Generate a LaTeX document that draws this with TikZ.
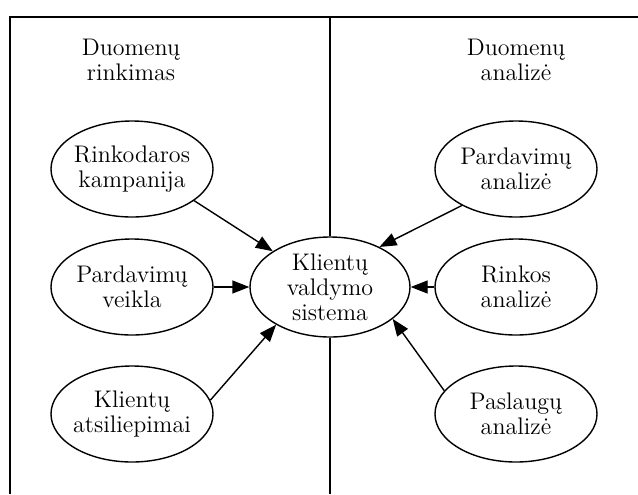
\documentclass[tikz,border=0pt]{standalone}
\usepackage{tikz}
\usepackage{xcolor}
\usetikzlibrary{arrows.meta}
\usetikzlibrary{shapes.geometric}

\tikzset{
	blob/.style={draw, ellipse, line width=0.7pt, minimum width=81pt, minimum height=48pt, inner sep=0pt},
	txt/.style={align=center, inner sep=0pt},
	feed/.style={line width=0.7pt, -{Triangle[length=8.5pt,width=6.5pt]}},
}

\begin{document}
\begin{tikzpicture}[x=0.5pt, y=-0.5pt, font=\fontsize{12pt}{12.5pt}\selectfont]
	\useasboundingbox (0,0) rectangle (638,494);

	% Frame
	\coordinate (tl) at (10,17);
	\coordinate (tr) at (638,17);
	\coordinate (bl) at (10,494);
	\coordinate (midtop) at (330,17);
	\coordinate (midbot) at (330,494);
	\draw[line width=0.7pt] (bl) -- (tl) -- (tr);

	% Column titles
	\node[txt] (hleft) at (131,60) {Duomenų\\rinkimas};
	\node[txt] (hright) at (516,60) {Duomenų\\analizė};

	% Central system
	\node[blob, minimum width=80pt, minimum height=50pt, label={[txt]center:Klientų\\valdymo\\sistema}] (kvs) at (330,287) {};
	\draw[line width=0.7pt] (midtop) -- (kvs.north);
	\draw[line width=0.7pt] (kvs.south) -- (midbot);

	% Data sources
	\node[blob, label={[txt]center:Rinkodaros\\kampanija}] (rk) at (132,169) {};
	\node[blob, label={[txt]center:Pardavimų\\veikla}] (pv) at (132,287) {};
	\node[blob, label={[txt]center:Klientų\\atsiliepimai}] (ka) at (132,414) {};

	% Analyses
	\node[blob, label={[txt]center:Pardavimų\\analizė}] (pa) at (516,169) {};
	\node[blob, label={[txt]center:Rinkos\\analizė}] (ra) at (516,287) {};
	\node[blob, label={[txt]center:Paslaugų\\analizė}] (pla) at (516,414) {};

	% Arrows into the system
	\draw[feed] (rk.333) -- (kvs.148);
	\draw[feed] (pv) -- (kvs);
	\draw[feed] (ka.10) -- (kvs.215);
	\draw[feed] (pa.214) -- (kvs.39);
	\draw[feed] (ra) -- (kvs);
	\draw[feed] (pla.162) -- (kvs.333);
\end{tikzpicture}
\end{document}
